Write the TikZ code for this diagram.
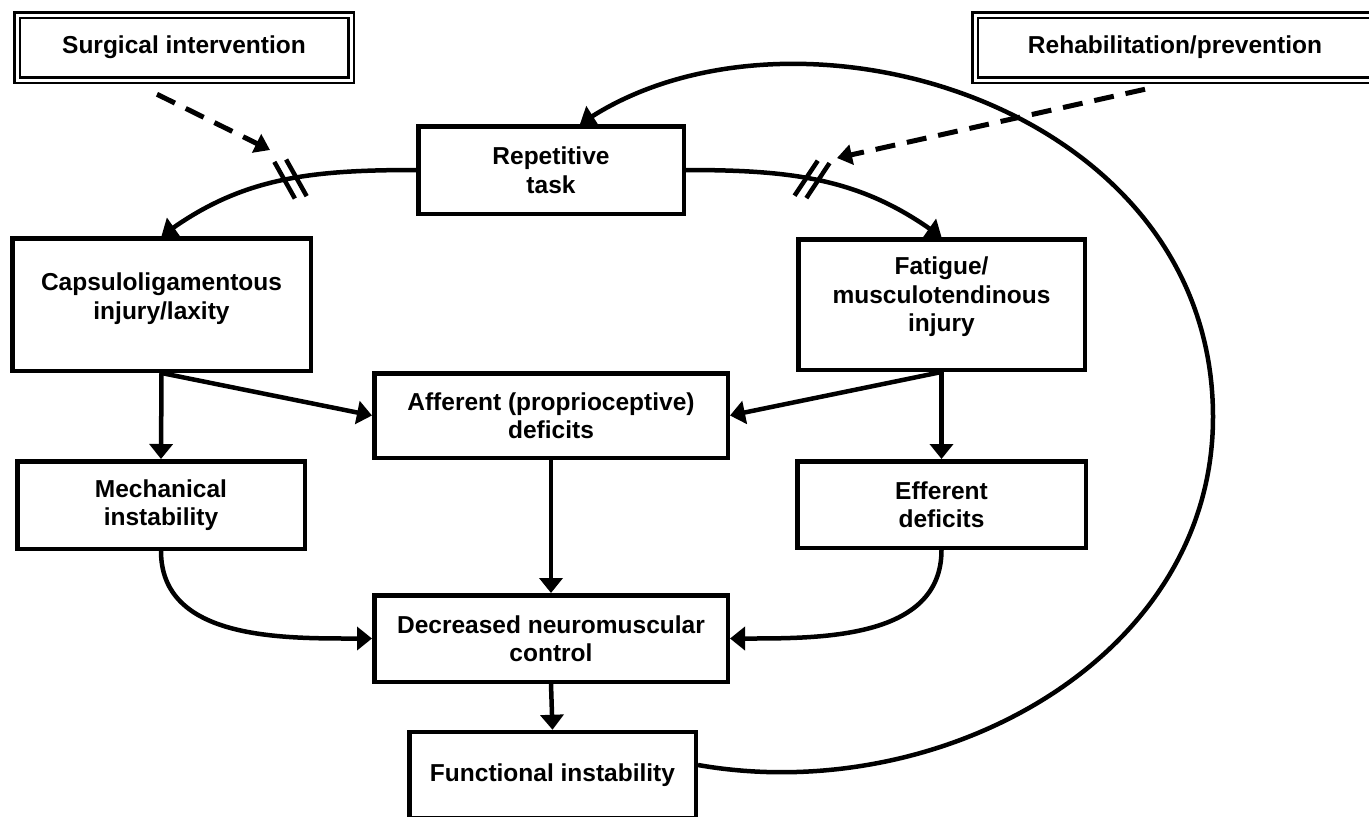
\documentclass[tikz,border=0pt]{standalone}
\usepackage{fontspec}
\setmainfont{Liberation Sans}
\usetikzlibrary{arrows.meta, decorations.markings}
\tikzset{every node/.style={align=center, font=\fontsize{24.5}{28.5}\selectfont\bfseries}}
\tikzset{box/.style={draw, line width=4.5pt, inner sep=0pt}}
\tikzset{frame/.style={draw, double, line width=2.5pt, double distance=3pt, inner sep=0pt}}
\tikzset{link/.style={line width=4.5pt, -{Triangle[length=15pt, width=23pt]}}}
\tikzset{linked/.style={line width=5pt, dash pattern=on 20pt off 12pt, -{Triangle[length=15pt, width=20pt]}}}
\tikzset{cut/.style 2 args={postaction=decorate, decoration={markings, mark=at position #1 with {
  \foreach \s in {-6pt,6pt} \draw[arrows=-, line width=4.5pt] ([xshift=\s]#2:-21pt) -- ([xshift=\s]#2:21pt);}}}}

\begin{document}
\begin{tikzpicture}[x=1pt, y=-1pt]
		\useasboundingbox (0,0) rectangle (1369,817);
		\clip (0,0) rectangle (1369,817);

		% Treatment boxes
		\node[frame, minimum width=334pt, minimum height=65pt] (surg) at (184,47.5) {Surgical intervention};
		\node[frame, minimum width=400pt, minimum height=65pt] (rehab) at (1175,47.5) {Rehabilitation/prevention};

		% Boxes
		\node[box, minimum width=265.5pt, minimum height=87.5pt] (rep) at (551,170) {Repetitive\\task};
		\node[box, minimum width=298.5pt, minimum height=132.5pt] (caps) at (161.5,304.5) {Capsuloligamentous\\injury/laxity\\[-12pt]};
		\node[box, minimum width=286.5pt, minimum height=130.5pt] (fat) at (941.5,304.5) {Fatigue/\\musculotendinous\\injury\\[-8pt]};
		\node[box, minimum width=353.5pt, minimum height=84.5pt] (aff) at (551,415.5) {Afferent (proprioceptive)\\deficits};
		\node[box, minimum width=287.5pt, minimum height=87.5pt] (mech) at (161,505) {Mechanical\\instability};
		\node[box, minimum width=288.5pt, minimum height=86.5pt] (eff) at (941.5,504.5) {Efferent\\deficits};
		\node[box, minimum width=353.5pt, minimum height=86.5pt] (dec) at (551,638.5) {Decreased neuromuscular\\control};
		\node[box, minimum width=286.5pt, minimum height=86pt] (func) at (552.5,775) {Functional instability};

		% Coordinates
		\coordinate (hitL) at (270,150);
		\coordinate (hitR) at (837,158);
		\coordinate (loopR) at (1213,417);

		% Arrows from the task
		\draw[link, cut={0.47}{-72}] (rep.west) to[out=180, in=35] (caps.north);
		\draw[link, cut={0.47}{68}] (rep.east) to[out=0, in=145] (fat.north);
		%% Dashed
		\draw[linked] ([xshift=-27pt, yshift=-13pt]surg.south) -- (hitL);
		\draw[linked] ([xshift=-30pt, yshift=-8pt]rehab.south) -- (hitR);

		% Arrows down
		\draw[link] (caps.south) -- (mech.north);
		\draw[link] (caps.south) -- (aff.west);
		\draw[link] (fat.south) -- (eff.north);
		\draw[link] (fat.south) -- (aff.east);
		\draw[link] (aff.south) -- (dec.north);
		\draw[link] (mech.south) to[out=-90, in=180] (dec.west);
		\draw[link] (eff.south) to[out=-90, in=0] (dec.east);
		\draw[link] (dec.south) -- (func.north);

		% Loop back
		\draw[link] ([yshift=10pt]func.east) to[out=-10, in=-90] (loopR) .. controls (1213,105) and (800,-15) .. ([xshift=29pt]rep.north);
	\end{tikzpicture}
\end{document}
